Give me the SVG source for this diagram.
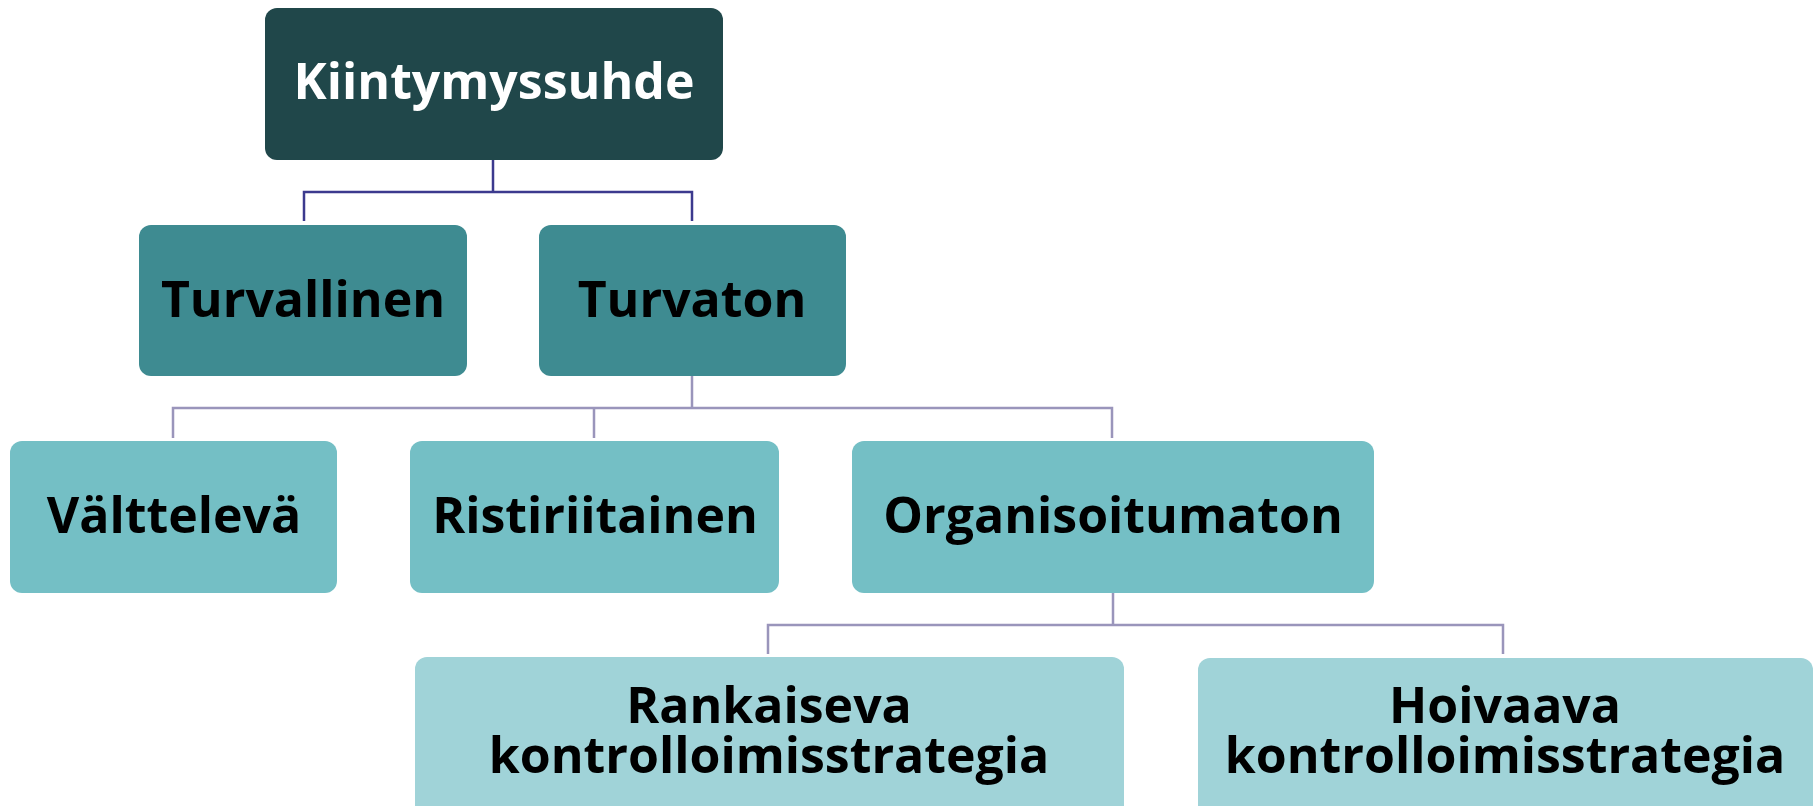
<svg xmlns="http://www.w3.org/2000/svg" width="1816" height="806" viewBox="0 0 1816 806">
<style>
.t{font-family:"Open Sans","DejaVu Sans",sans-serif;font-weight:bold;font-size:50px;text-anchor:middle;fill:#000}
.w{fill:#fff}
.l1{fill:#20474a}
.l2{fill:#3e8b91}
.l3{fill:#74bfc5}
.l4{fill:#a0d3d8}
.c1{fill:none;stroke:#3c3a8e;stroke-width:2.5}
.c2{fill:none;stroke:#9a95bb;stroke-width:2.5}
</style>
<rect width="1816" height="806" fill="#fff"/>
<g id="connectors">
<path class="c1" d="M493 160V192M304 221V192H692V221"/>
<path class="c2" d="M692 376V408M173 438V408H1112V438M594 438V408"/>
<path class="c2" d="M1113 593V625M768 654V625H1503V654"/>
</g>
<g id="n-kiintymyssuhde">
<rect class="l1" x="265" y="8" width="458" height="152" rx="12"/>
<text class="t w" x="494" y="99">Kiintymyssuhde</text>
</g>
<g id="n-turvallinen">
<rect class="l2" x="139" y="225" width="328" height="151" rx="12"/>
<text class="t" x="303" y="317">Turvallinen</text>
</g>
<g id="n-turvaton">
<rect class="l2" x="539" y="225" width="307" height="151" rx="12"/>
<text class="t" x="692" y="317">Turvaton</text>
</g>
<g id="n-valtteleva">
<rect class="l3" x="10" y="441" width="327" height="152" rx="12"/>
<text class="t" x="174" y="533">Välttelevä</text>
</g>
<g id="n-ristiriitainen">
<rect class="l3" x="410" y="441" width="369" height="152" rx="12"/>
<text class="t" x="595" y="533">Ristiriitainen</text>
</g>
<g id="n-organisoitumaton">
<rect class="l3" x="852" y="441" width="522" height="152" rx="12"/>
<text class="t" x="1113" y="533">Organisoitumaton</text>
</g>
<g id="n-rankaiseva">
<rect class="l4" x="415" y="657" width="709" height="170" rx="12"/>
<text class="t" x="769" y="723">Rankaiseva</text>
<text class="t" x="769" y="773">kontrolloimisstrategia</text>
</g>
<g id="n-hoivaava">
<rect class="l4" x="1198" y="658" width="615" height="170" rx="12"/>
<text class="t" x="1505" y="723">Hoivaava</text>
<text class="t" x="1505" y="773">kontrolloimisstrategia</text>
</g>
</svg>
